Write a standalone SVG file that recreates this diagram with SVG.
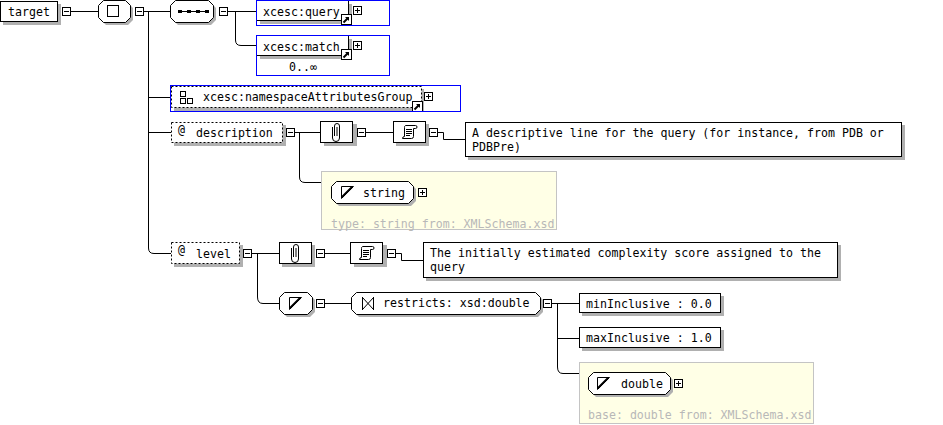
<svg xmlns="http://www.w3.org/2000/svg" xmlns:xlink="http://www.w3.org/1999/xlink" width="943" height="425" viewBox="0 0 943 425">
<style>
  text { font-family: "DejaVu Sans Mono", "Liberation Mono", monospace; font-size: 11.6px; fill: #000; }
  .box { fill: #fff; stroke: #000; stroke-width: 1; }
  .shadow { fill: #b0b0b0; stroke: none; }
  .dash { fill: #fff; stroke: #000; stroke-width: 1; stroke-dasharray: 2 2; }
  .ref { fill: none; stroke: #0000ff; stroke-width: 1; }
  .yellow { fill: #ffffe6; stroke: #c4c4c4; stroke-width: 1; }
  .grey { fill: #b8b8b8; }
  .conn { fill: none; stroke: #000; stroke-width: 1; }
  .icon { fill: none; stroke: #000; stroke-width: 1; }
</style>
<defs>
  <g id="minus"><rect x="0.5" y="0.5" width="8" height="8" fill="#fff" stroke="#000"/><path d="M2,4.5 H7" stroke="#000"/></g>
  <g id="plus"><rect x="0.5" y="0.5" width="8" height="8" fill="#fff" stroke="#000"/><path d="M2,4.5 H7 M4.5,2 V7" stroke="#000"/></g>
  <g id="link"><rect x="0.5" y="0.5" width="10" height="10" fill="#fff" stroke="#000"/><path d="M2.5,8.5 L7,4" stroke="#000" stroke-width="2"/><path d="M4,3 H8 V7 Z" fill="#000"/></g>
  <g id="clip"><rect x="0.5" y="0.5" width="32" height="21" class="box"/><path d="M14.5,15 V5 A2.5,2.5 0 0 1 19.5,5 V17 A3.5,3.5 0 0 1 12.5,17 V6" class="icon"/><path d="M17,6 V15" class="icon"/></g>
  <g id="doc"><rect x="0.5" y="0.5" width="32" height="21" class="box"/><path d="M12.5,4.5 H22.5 A1.5,1.5 0 0 1 22.5,7.5 H20.5 V15.5 A2,2 0 0 1 18.5,17.5 H9.5 A2,2 0 0 1 11.5,15.5 V6.5 A2,2 0 0 1 12.5,4.5 Z" fill="#fff" stroke="#000"/><path d="M13,8.5 H19 M13,10.5 H19 M13,12.5 H19 M13,14.5 H17" stroke="#000"/></g>
  <path id="stIcon" d="M0.5,12.5 V0.5 H12.5 Z" fill="none" stroke="#000"/>
</defs>

<g id="connectors">
  <path class="conn" d="M70,11.5 H98"/>
  <path class="conn" d="M143,11.5 H170"/>
  <path class="conn" d="M148.5,11.5 V248 Q148.5,253.5 154,253.5 H171"/>
  <path class="conn" d="M148.5,97.5 H170"/>
  <path class="conn" d="M148.5,132.5 H171"/>
  <path class="conn" d="M227,11.5 H256"/>
  <path class="conn" d="M235.5,11.5 V40 Q235.5,45.5 241,45.5 H256"/>
  <path class="conn" d="M294,132.5 H321"/>
  <path class="conn" d="M299.5,132.5 V177 Q299.5,182.5 305,182.5 H321"/>
  <path class="conn" d="M365,132.5 H393"/>
  <path class="conn" d="M437,132.5 H443.5 V139.5 H465"/>
  <path class="conn" d="M251,253.5 H279"/>
  <path class="conn" d="M257.5,253.5 V297 Q257.5,303.5 263,303.5 H279"/>
  <path class="conn" d="M324,253.5 H351"/>
  <path class="conn" d="M395,253.5 H401.5 V260.5 H423"/>
  <path class="conn" d="M324,303.5 H351"/>
  <path class="conn" d="M551,303.5 H579"/>
  <path class="conn" d="M557.5,303.5 V367 Q557.5,373.5 563,373.5 H579"/>
  <path class="conn" d="M557.5,338.5 H579"/>
</g>

<g id="target">
  <rect class="shadow" x="3" y="4" width="58" height="21"/>
  <rect class="box" x="0.5" y="1.5" width="57" height="20"/>
  <text x="8" y="15.5">target</text>
  <use xlink:href="#minus" x="62" y="7"/>
</g>

<g id="all">
  <path class="shadow" d="M106,3 H128 L133,8 V20 L128,25 H106 L101,20 V8 Z"/>
  <path class="box" d="M103.5,0.5 H125.5 L130.5,5.5 V17.5 L125.5,22.5 H103.5 L98.5,17.5 V5.5 Z"/>
  <rect class="icon" x="107.5" y="5.5" width="11" height="11" stroke-width="1.2"/>
  <use xlink:href="#minus" x="135" y="7"/>
</g>

<g id="sequence">
  <path class="shadow" d="M178,3 H211 L216,8 V20 L211,25 H178 L173,20 V8 Z"/>
  <path class="box" d="M175.5,0.5 H208.5 L213.5,5.5 V17.5 L208.5,22.5 H175.5 L170.5,17.5 V5.5 Z"/>
  <path d="M178,11.5 H209" stroke="#000"/>
  <rect x="178" y="10" width="4" height="3" fill="#000"/>
  <rect x="187" y="10" width="4" height="3" fill="#000"/>
  <rect x="196" y="10" width="4" height="3" fill="#000"/>
  <rect x="205" y="10" width="4" height="3" fill="#000"/>
  <use xlink:href="#minus" x="219" y="7"/>
</g>

<g id="query">
  <rect class="shadow" x="260" y="4" width="92" height="20"/>
  <rect class="box" x="256.5" y="0.5" width="92" height="20"/>
  <text x="263" y="15.5">xcesc:query</text>
  <use xlink:href="#link" x="341" y="14"/>
  <use xlink:href="#plus" x="353" y="6"/>
  <rect class="ref" x="256.5" y="0.5" width="133" height="25"/>
</g>

<g id="match">
  <rect class="shadow" x="260" y="39" width="92" height="20"/>
  <rect class="box" x="256.5" y="35.5" width="92" height="20"/>
  <text x="263" y="50.5">xcesc:match</text>
  <use xlink:href="#link" x="341" y="49"/>
  <use xlink:href="#plus" x="353" y="41"/>
  <text x="289" y="71" fill="#333">0..∞</text>
  <rect class="ref" x="256.5" y="35.5" width="133" height="40"/>
</g>

<g id="namespaceAttributesGroup">
  <rect class="shadow" x="174" y="89" width="250" height="22"/>
  <rect class="dash" x="171.5" y="86.5" width="250" height="21"/>
  <rect class="icon" x="180.5" y="91.5" width="5" height="5"/>
  <rect class="icon" x="180.5" y="98.5" width="5" height="5"/>
  <rect class="icon" x="187.5" y="98.5" width="5" height="5"/>
  <text x="203" y="101">xcesc:namespaceAttributesGroup</text>
  <use xlink:href="#link" x="412" y="101"/>
  <use xlink:href="#plus" x="424" y="92"/>
  <rect class="ref" x="170.5" y="85.5" width="290" height="26"/>
</g>

<g id="description">
  <rect class="shadow" x="174" y="125" width="112" height="21"/>
  <rect class="dash" x="171.5" y="122.5" width="111" height="20"/>
  <text x="178" y="134" font-size="9.5px">@</text>
  <text x="196" y="137">description</text>
  <use xlink:href="#minus" x="286" y="128"/>
</g>

<g id="description-annotation">
  <rect class="shadow" x="324" y="124" width="33" height="22"/>
  <use xlink:href="#clip" x="320" y="121"/>
  <use xlink:href="#minus" x="357" y="128"/>
</g>

<g id="description-documentation">
  <rect class="shadow" x="396" y="124" width="33" height="22"/>
  <use xlink:href="#doc" x="393" y="121"/>
  <use xlink:href="#minus" x="429" y="128"/>
</g>

<g id="description-text">
  <rect class="shadow" x="468" y="125" width="437" height="35"/>
  <rect class="box" x="465.5" y="122.5" width="436" height="34"/>
  <text x="472" y="137">A descriptive line for the query (for instance, from PDB or</text>
  <text x="472" y="151">PDBPre)</text>
</g>

<g id="string-type">
  <rect class="yellow" x="321.5" y="171.5" width="235" height="58"/>
  <path class="shadow" d="M339,184 H411 L416,189 V201 L411,206 H339 L334,201 V189 Z"/>
  <path class="box" d="M336.5,181.5 H408.5 L413.5,186.5 V198.5 L408.5,203.5 H336.5 L331.5,198.5 V186.5 Z"/>
  <use xlink:href="#stIcon" x="341" y="186"/>
  <path d="M342,197 L352,187" stroke="#000" stroke-width="2"/>
  <text x="363" y="196.5">string</text>
  <use xlink:href="#plus" x="418" y="188"/>
  <text x="331" y="227.5" class="grey">type: string from: XMLSchema.xsd</text>
</g>

<g id="level">
  <rect class="shadow" x="174" y="245" width="69" height="22"/>
  <rect class="dash" x="171.5" y="242.5" width="68" height="21"/>
  <text x="178" y="254" font-size="9.5px">@</text>
  <text x="196" y="257.5">level</text>
  <use xlink:href="#minus" x="243" y="249"/>
</g>

<g id="level-annotation">
  <rect class="shadow" x="282" y="245" width="33" height="22"/>
  <use xlink:href="#clip" x="279" y="242"/>
  <use xlink:href="#minus" x="316" y="249"/>
</g>

<g id="level-documentation">
  <rect class="shadow" x="354" y="245" width="33" height="22"/>
  <use xlink:href="#doc" x="350" y="242"/>
  <use xlink:href="#minus" x="387" y="249"/>
</g>

<g id="level-text">
  <rect class="shadow" x="426" y="245" width="415" height="36"/>
  <rect class="box" x="423.5" y="242.5" width="414" height="35"/>
  <text x="430" y="257">The initially estimated complexity score assigned to the</text>
  <text x="430" y="271">query</text>
</g>

<g id="level-simpletype">
  <path class="shadow" d="M287,295 H310 L315,300 V312 L310,317 H287 L282,312 V300 Z"/>
  <path class="box" d="M284.5,292.5 H307.5 L312.5,297.5 V309.5 L307.5,314.5 H284.5 L279.5,309.5 V297.5 Z"/>
  <use xlink:href="#stIcon" x="289" y="297"/>
  <path d="M290,308 L300,298" stroke="#000" stroke-width="2"/>
  <use xlink:href="#minus" x="316" y="299"/>
</g>

<g id="restricts">
  <path class="shadow" d="M359,295 H538 L543,300 V312 L538,317 H359 L354,312 V300 Z"/>
  <path class="box" d="M356.5,292.5 H535.5 L540.5,297.5 V309.5 L535.5,314.5 H356.5 L351.5,309.5 V297.5 Z"/>
  <path class="icon" d="M362.5,297 V310 M373.5,297 V310 M362.5,297.5 L373.5,309.5 M373.5,297.5 L362.5,309.5"/>
  <text x="383" y="307">restricts: xsd:double</text>
  <use xlink:href="#minus" x="543" y="299"/>
</g>

<g id="minInclusive">
  <rect class="shadow" x="582" y="296" width="142" height="20"/>
  <rect class="box" x="579.5" y="293.5" width="141" height="19"/>
  <text x="586" y="307.5">minInclusive : 0.0</text>
</g>

<g id="maxInclusive">
  <rect class="shadow" x="582" y="330" width="142" height="21"/>
  <rect class="box" x="579.5" y="327.5" width="141" height="20"/>
  <text x="586" y="342">maxInclusive : 1.0</text>
</g>

<g id="double-type">
  <rect class="yellow" x="579.5" y="362.5" width="234" height="61"/>
  <path class="shadow" d="M596,375 H668 L673,380 V392 L668,397 H596 L591,392 V380 Z"/>
  <path class="box" d="M593.5,372.5 H665.5 L670.5,377.5 V389.5 L665.5,394.5 H593.5 L588.5,389.5 V377.5 Z"/>
  <use xlink:href="#stIcon" x="597" y="377"/>
  <path d="M598,388 L608,378" stroke="#000" stroke-width="2"/>
  <text x="621" y="388">double</text>
  <use xlink:href="#plus" x="674" y="379"/>
  <text x="588" y="418.5" class="grey">base: double from: XMLSchema.xsd</text>
</g>
</svg>
